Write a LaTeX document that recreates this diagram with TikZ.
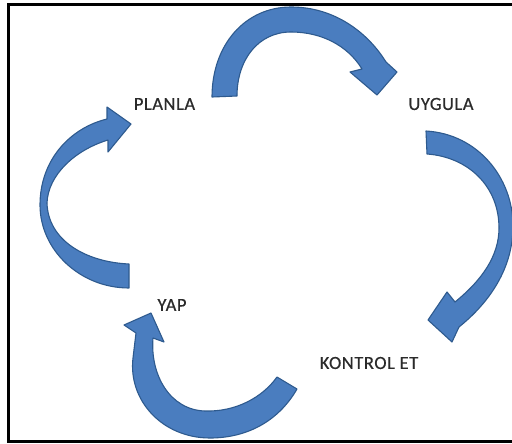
\documentclass[tikz,border=0pt]{standalone}
\usepackage{fontspec}
\setmainfont{Carlito}
\newfontfamily\lblfont{Carlito}[FakeBold=0.6, LetterSpace=3]
\usepackage{xcolor}
\usepackage{tikz}
\definecolor{cycblue}{HTML}{4A7DBF}
\definecolor{cycedge}{HTML}{2E5A8E}
\definecolor{cyctext}{HTML}{2B2B2B}

\begin{document}
\begin{tikzpicture}[x=1pt, y=-1pt,
    blockarrow/.style={fill=cycblue, draw=cycedge, line width=1.1pt, line join=round},
    lbl/.style={font=\lblfont\fontsize{18.5}{20}\selectfont, text=cyctext, inner sep=0pt}]
  \useasboundingbox (0,0) rectangle (512,444);
  % frame (right side runs off the picture)
  \draw[line width=3pt] (512,4.5) -- (8.5,4.5) -- (8.5,441.5) -- (512,441.5);
  % labels
  \node[lbl] (planla)  at (164.5,104) {PLANLA};
  \node[lbl] (uygula)  at (441,104)   {UYGULA};
  \node[lbl] (kontrol) at (369,363)   {KONTROL ET};
  \node[lbl] (yap)     at (172,305)   {YAP};
  % planla -> uygula
  \draw[blockarrow] (212,97) .. controls (212,45) and (245,7) .. (291,7)
      .. controls (335,7) and (368,33) .. (386,62)
      -- (397,72) -- (377,95) -- (350,72) -- (362,69)
      .. controls (348,46) and (322,32) .. (291,32)
      .. controls (258,32) and (237,60) .. (237,96) -- cycle;
  % uygula -> kontrol et
  \draw[blockarrow] (426,131) .. controls (478,134) and (513,178) .. (513,226)
      .. controls (513,268) and (490,302) .. (459,327)
      -- (452,342) -- (428,320) -- (447,292) -- (455,302)
      .. controls (482,280) and (499,256) .. (499,228)
      .. controls (499,186) and (468,157) .. (427,154) -- cycle;
  % kontrol et -> yap
  \draw[blockarrow] (297,389) .. controls (278,422) and (246,438) .. (210,438)
      .. controls (162,438) and (128,400) .. (133,358) -- (136,333)
      -- (124,325) -- (151,313) -- (164,342) -- (153,338)
      .. controls (150,375) and (170,410) .. (205,411)
      .. controls (235,412) and (262,398) .. (277,377) -- cycle;
  % yap -> planla
  \draw[blockarrow] (129,288) .. controls (80,288) and (40,250) .. (40,205)
      .. controls (40,160) and (70,128) .. (107,119)
      -- (107,107) -- (131,124) -- (108,152) -- (108,140)
      .. controls (75,150) and (48,175) .. (47,203)
      .. controls (48,240) and (85,262) .. (129,264) -- cycle;
\end{tikzpicture}
\end{document}
